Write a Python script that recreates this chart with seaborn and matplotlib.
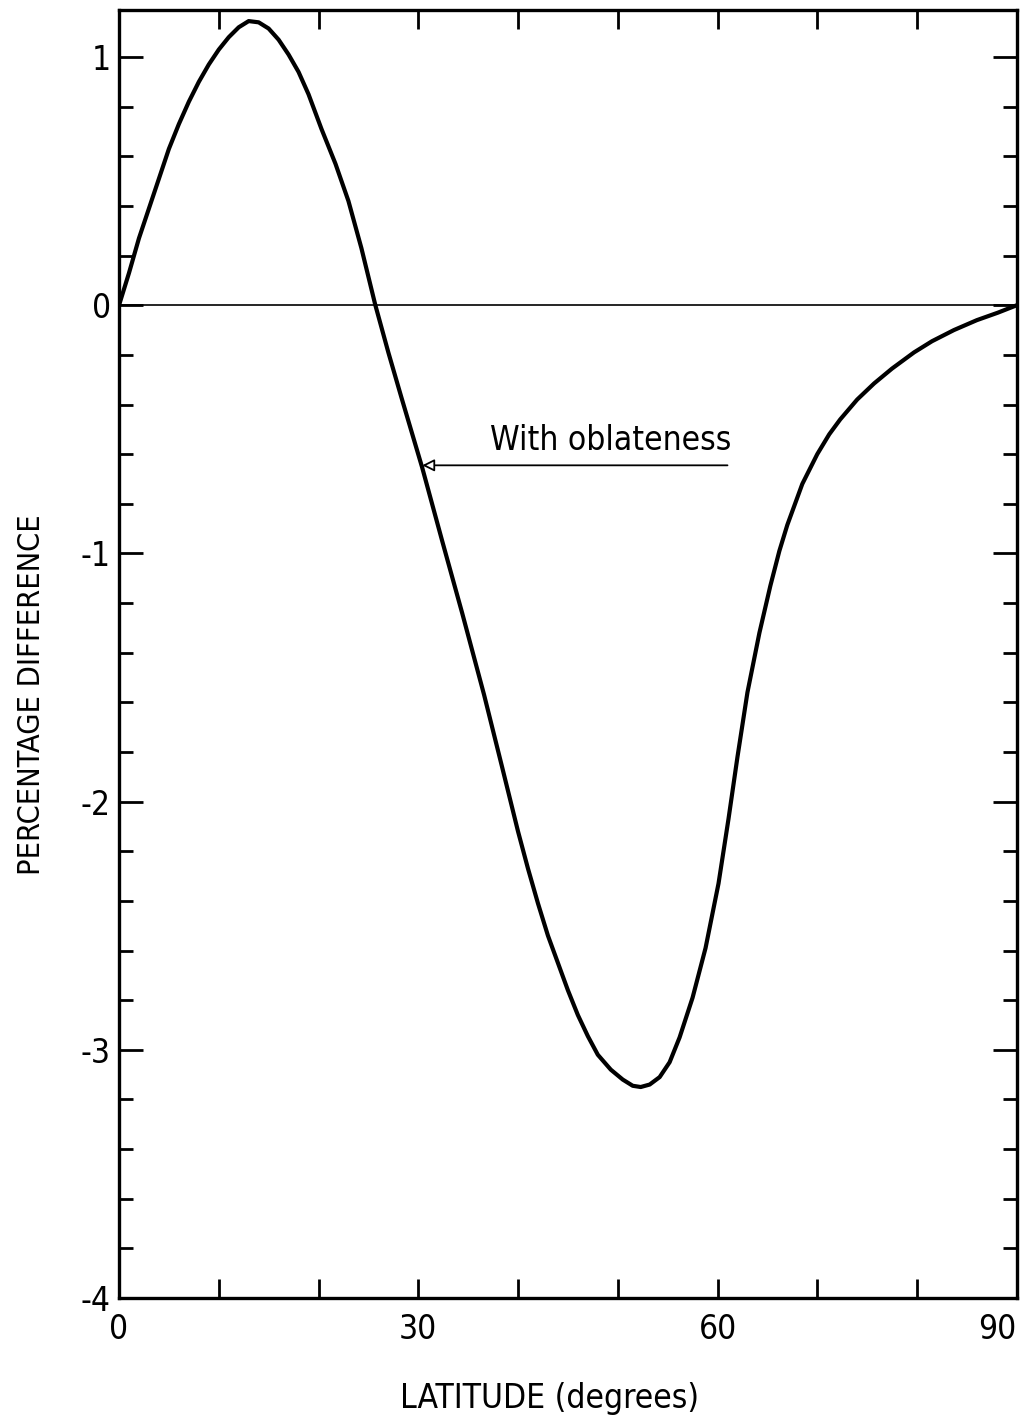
import numpy as np
import pandas as pd
import matplotlib
matplotlib.use("Agg")
import matplotlib.pyplot as plt
from matplotlib.ticker import MultipleLocator, FixedLocator
import seaborn as sns

# ---- data ----
latitude = [0, 1, 2, 3, 4, 5, 6, 7, 8, 9, 10, 11, 12, 13, 14, 15, 16, 17, 18, 19,
            20.3, 21.7, 23, 24.3, 25.7, 27.0, 28.3, 30.4, 32.4, 34.4, 36.6, 38.4,
            40, 41, 42, 43, 44, 45, 46, 47, 48.0, 49.3, 50.5, 51.5, 52.3, 53.2,
            54.2, 55.2, 56.2, 57.5, 58.8, 60.1, 61.1, 62, 63, 64.2, 65.3, 66.2,
            67, 68.5, 70, 71.2, 72.3, 74, 75.7, 77.5, 79.7, 81.5, 83.7, 86, 88.1, 90]
pct_diff = [0, 0.13, 0.27, 0.39, 0.51, 0.63, 0.73, 0.82, 0.90, 0.97, 1.03, 1.08,
            1.12, 1.145, 1.14, 1.115, 1.07, 1.01, 0.94, 0.85, 0.71, 0.57, 0.42,
            0.23, 0.0, -0.19, -0.37, -0.655, -0.95, -1.24, -1.57, -1.86, -2.12,
            -2.27, -2.41, -2.54, -2.65, -2.76, -2.86, -2.945, -3.02, -3.08, -3.12,
            -3.145, -3.15, -3.14, -3.11, -3.05, -2.95, -2.79, -2.59, -2.33, -2.07,
            -1.82, -1.56, -1.32, -1.13, -0.99, -0.885, -0.72, -0.60, -0.52, -0.46,
            -0.38, -0.315, -0.255, -0.19, -0.145, -0.10, -0.06, -0.03, 0.0]
x_tick_labels = [0, 30, 60, 90]
y_tick_labels = [-4, -3, -2, -1, 0, 1]
annotation_text = "With oblateness"

df = pd.DataFrame({"lat": latitude, "diff": pct_diff})

sns.set_theme(style="ticks")
plt.rcParams["font.family"] = ["DejaVu Sans"]
plt.rcParams["font.stretch"] = "condensed"
plt.rcParams["axes.unicode_minus"] = False
plt.rcParams["text.color"] = "black"
plt.rcParams["axes.labelcolor"] = "black"
plt.rcParams["xtick.color"] = "black"
plt.rcParams["ytick.color"] = "black"

fig = plt.figure(figsize=(10.26, 14.17), dpi=100)
ax = fig.add_axes([0.116, 0.084, 0.875, 0.909])

sns.lineplot(data=df, x="lat", y="diff", ax=ax, color="black", lw=3.0,
             sort=False, estimator=None)
ax.axhline(0, color="black", lw=1.2)

ax.set_xlim(0, 90)
ax.set_ylim(-4, 1.19)

ax.xaxis.set_major_locator(FixedLocator(x_tick_labels))
ax.xaxis.set_minor_locator(MultipleLocator(10))
ax.yaxis.set_major_locator(FixedLocator(y_tick_labels))
ax.yaxis.set_minor_locator(MultipleLocator(0.2))
ax.set_xticklabels([str(v) for v in x_tick_labels])
ax.set_yticklabels([str(v) for v in y_tick_labels])
ax.get_xticklabels()[-1].set_horizontalalignment("right")

ax.tick_params(axis="x", which="both", direction="in", top=True, bottom=True,
               length=14, width=2.0, labelsize=24, pad=11)
ax.tick_params(axis="y", which="major", direction="in", left=True, right=True,
               length=17, width=2.0, labelsize=24, pad=6)
ax.tick_params(axis="y", which="minor", direction="in", left=True, right=True,
               length=10, width=2.0)

for s in ax.spines.values():
    s.set_linewidth(2.4)
    s.set_color("black")
    s.set_visible(True)

ax.set_xlabel("LATITUDE (degrees)", fontsize=24, labelpad=24)
ax.xaxis.set_label_coords(0.48, -0.065)
ax.set_ylabel("PERCENTAGE DIFFERENCE", fontsize=22, labelpad=22)
ax.yaxis.set_label_coords(-0.081, 0.468)

ax.annotate("", xy=(30.4, -0.645), xytext=(61.0, -0.645),
            arrowprops=dict(arrowstyle="-|>", fc="white", ec="black", lw=1.3,
                            mutation_scale=18, shrinkA=0, shrinkB=0))
ax.text(37.2, -0.61, annotation_text, fontsize=24, ha="left", va="bottom")

fig.savefig("out.png", dpi=100)
